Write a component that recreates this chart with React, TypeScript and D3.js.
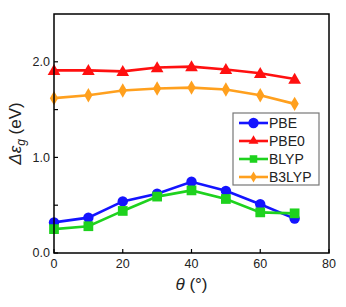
import React from "react";
import * as d3 from "d3";

const angles = [0, 10, 20, 30, 40, 50, 60, 70];
const pbe = [0.32, 0.37, 0.54, 0.62, 0.745, 0.65, 0.51, 0.36];
const pbe0 = [1.91, 1.91, 1.9, 1.94, 1.95, 1.92, 1.88, 1.82];
const blyp = [0.25, 0.28, 0.44, 0.59, 0.655, 0.565, 0.425, 0.415];
const b3lyp = [1.62, 1.65, 1.7, 1.72, 1.73, 1.71, 1.65, 1.56];

const xTicks = [0, 20, 40, 60, 80];
const yTicks = [0, 0.5, 1, 1.5, 2];
const yLabels = ["0.0", "", "1.0", "", "2.0"];

type Marker = "circle" | "triangle" | "square" | "diamond";

const series: { name: string; values: number[]; color: string; marker: Marker }[] = [
  { name: "PBE", values: pbe, color: "#1414ff", marker: "circle" },
  { name: "PBE0", values: pbe0, color: "#ff1010", marker: "triangle" },
  { name: "BLYP", values: blyp, color: "#1ed21e", marker: "square" },
  { name: "B3LYP", values: b3lyp, color: "#ffa01e", marker: "diamond" },
];

const W = 346;
const H = 307;
const m = { left: 54, right: 17, top: 14, bottom: 54 };

const symbolType = {
  circle: d3.symbolCircle,
  triangle: d3.symbolTriangle,
  square: d3.symbolSquare,
  diamond: d3.symbolDiamond,
};
const symbolSize = { circle: 85, triangle: 70, square: 95, diamond: 60 };

function markerPath(k: Marker, small = false) {
  return d3.symbol().type(symbolType[k]).size(symbolSize[k] * (small ? 0.6 : 1))() || "";
}

export default function App() {
  const x = d3.scaleLinear().domain([0, 80]).range([m.left, W - m.right]);
  const y = d3.scaleLinear().domain([0, 2.5]).range([H - m.bottom, m.top]);
  const line = d3
    .line<number>()
    .x((_d, i) => x(angles[i]))
    .y((d) => y(d));
  const font = "'Liberation Sans', Arial, sans-serif";
  const x0 = x(0);
  const y0 = y(0);

  return (
    <svg
      width={W}
      height={H}
      style={{ position: "absolute", left: 0, top: 0, background: "#fff" }}
      fontFamily={font}
    >
      {series.map((s) => (
        <g key={s.name}>
          <path d={line(s.values) || ""} fill="none" stroke={s.color} strokeWidth={2.6} />
          {s.values.map((v, i) => (
            <path
              key={i}
              d={markerPath(s.marker)}
              transform={`translate(${x(angles[i])},${y(v) + (s.marker === "triangle" ? 1 : 0)})`}
              fill={s.color}
            />
          ))}
        </g>
      ))}

      {/* frame */}
      <rect
        x={x0}
        y={m.top}
        width={W - m.right - x0}
        height={y0 - m.top}
        fill="none"
        stroke="#000"
        strokeWidth={1.5}
      />

      {/* y ticks */}
      {yTicks.map((t, i) => (
        <g key={"y" + t}>
          <line x1={x0} x2={x0 + 4} y1={y(t)} y2={y(t)} stroke="#000" strokeWidth={1.2} />
          {yLabels[i] && (
            <text x={x0 - 4} y={y(t)} dy="0.35em" textAnchor="end" fontSize={12.5} fill="#222">
              {yLabels[i]}
            </text>
          )}
        </g>
      ))}

      {/* x ticks */}
      {xTicks.map((t) => (
        <g key={"x" + t}>
          <line x1={x(t)} x2={x(t)} y1={y0} y2={y0 - 4} stroke="#000" strokeWidth={1.2} />
          <text x={x(t)} y={y0 + 15} textAnchor="middle" fontSize={12.5} fill="#222">
            {t}
          </text>
        </g>
      ))}

      {/* axis titles */}
      <text x={(x0 + W - m.right) / 2} y={290} textAnchor="middle" fontSize={17} fill="#222">
        <tspan fontStyle="italic">θ</tspan> (°)
      </text>
      <text
        transform={`translate(21,${(m.top + y0) / 2}) rotate(-90)`}
        textAnchor="middle"
        fontSize={17}
        fill="#222"
      >
        <tspan fontStyle="italic">Δε</tspan>
        <tspan fontStyle="italic" fontSize={12} dy={4}>g</tspan>
        <tspan dy={-4}> (eV)</tspan>
      </text>

      {/* legend */}
      <g transform="translate(233,113)">
        <rect x={0} y={0} width={86} height={72} fill="#fff" stroke="#777" strokeWidth={1.2} />
        {series.map((s, i) => (
          <g key={s.name} transform={`translate(0,${10 + i * 18})`}>
            <line x1={6} x2={35} y1={0} y2={0} stroke={s.color} strokeWidth={2.6} />
            <path d={markerPath(s.marker, s.marker !== "circle")} transform="translate(20.5,0)" fill={s.color} />
            <text x={36} y={0} dy="0.36em" fontSize={14} fill="#222">
              {s.name}
            </text>
          </g>
        ))}
      </g>
    </svg>
  );
}
